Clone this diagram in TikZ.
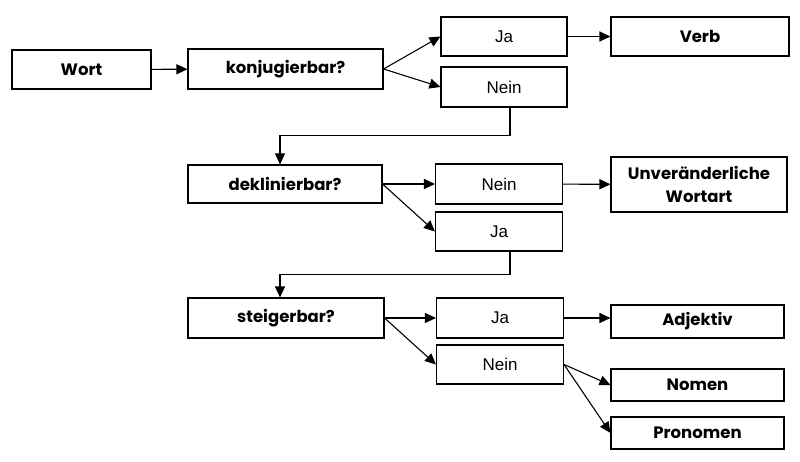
\documentclass[tikz,border=0pt]{standalone}
\usepackage{fontspec}
\setmainfont{Liberation Sans}
\newfontfamily\popfont{Poppins}
\usetikzlibrary{arrows.meta}

\begin{document}
\begin{tikzpicture}[x=1pt, y=-1pt,
    box/.style={draw, line width=1.1pt, rectangle, inner sep=0pt, font=\fontsize{17}{23}\selectfont},
    wordbox/.style={box, font=\fontsize{16.5}{23}\popfont\bfseries},
    link/.style={line width=1.1pt, -{Triangle[length=11pt, width=10pt]}}]
    \useasboundingbox (0,0) rectangle (800,462);

    % first question
    \node[wordbox, minimum width=139pt, minimum height=39pt] (wort) at (81.5,69.5) {Wort};
    \node[wordbox, minimum width=195pt, minimum height=40pt] (konj) at (285.5,69) {konjugierbar?};
    \node[box, minimum width=126pt, minimum height=39pt] (ja1) at (504,36.5) {Ja};
    \node[box, minimum width=126pt, minimum height=40pt] (nein1) at (504,87) {Nein};
    \node[wordbox, minimum width=178pt, minimum height=39pt] (verb) at (700,36.5) {Verb};

    % second question
    \node[wordbox, minimum width=194pt, minimum height=38pt] (dekl) at (285,184) {deklinierbar?};
    \node[box, minimum width=127pt, minimum height=40pt] (nein2) at (499,184) {Nein};
    \node[box, minimum width=127pt, minimum height=39pt] (ja2) at (499,231.5) {Ja};
    \node[wordbox, minimum width=176pt, minimum height=55pt, align=center] (unv) at (699,184.5) {Unver\"anderliche\\Wortart};

    % third question
    \node[wordbox, minimum width=196pt, minimum height=40pt] (steig) at (286,318) {steigerbar?};
    \node[box, minimum width=127pt, minimum height=40pt] (ja3) at (500,318) {Ja};
    \node[box, minimum width=127pt, minimum height=39pt] (nein3) at (500,364.5) {Nein};
    \node[wordbox, minimum width=173pt, minimum height=33pt] (adj) at (697.5,321.5) {Adjektiv};
    \node[wordbox, minimum width=173pt, minimum height=32pt] (nomen) at (697.5,385) {Nomen};
    \node[wordbox, minimum width=173pt, minimum height=32pt] (pron) at (697.5,433) {Pronomen};

    % arrows first question
    \draw[link] (wort) -- (konj);
    \draw[link] (konj.east) -- (ja1.west);
    \draw[link] (konj.east) -- (nein1.west);
    \draw[link] (ja1) -- (verb);
    \draw[link] ([xshift=6pt]nein1.south) -- ++(0,28) -| ([xshift=-5pt]dekl.north);

    % arrows second question
    \draw[link] (dekl.east) -- (nein2.west);
    \draw[link] (dekl.east) -- (ja2.west);
    \draw[link] (nein2) -- (unv);
    \draw[link] ([xshift=11pt]ja2.south) -- ++(0,23) -| ([xshift=-6pt]steig.north);

    % arrows third question
    \draw[link] (steig.east) -- (ja3.west);
    \draw[link] (steig.east) -- (nein3.west);
    \draw[link] (ja3.east) -- (ja3.east -| adj.west);
    \draw[link] (nein3.east) -- (nomen.west);
    \draw[link] (nein3.east) -- (pron.west);
\end{tikzpicture}
\end{document}
